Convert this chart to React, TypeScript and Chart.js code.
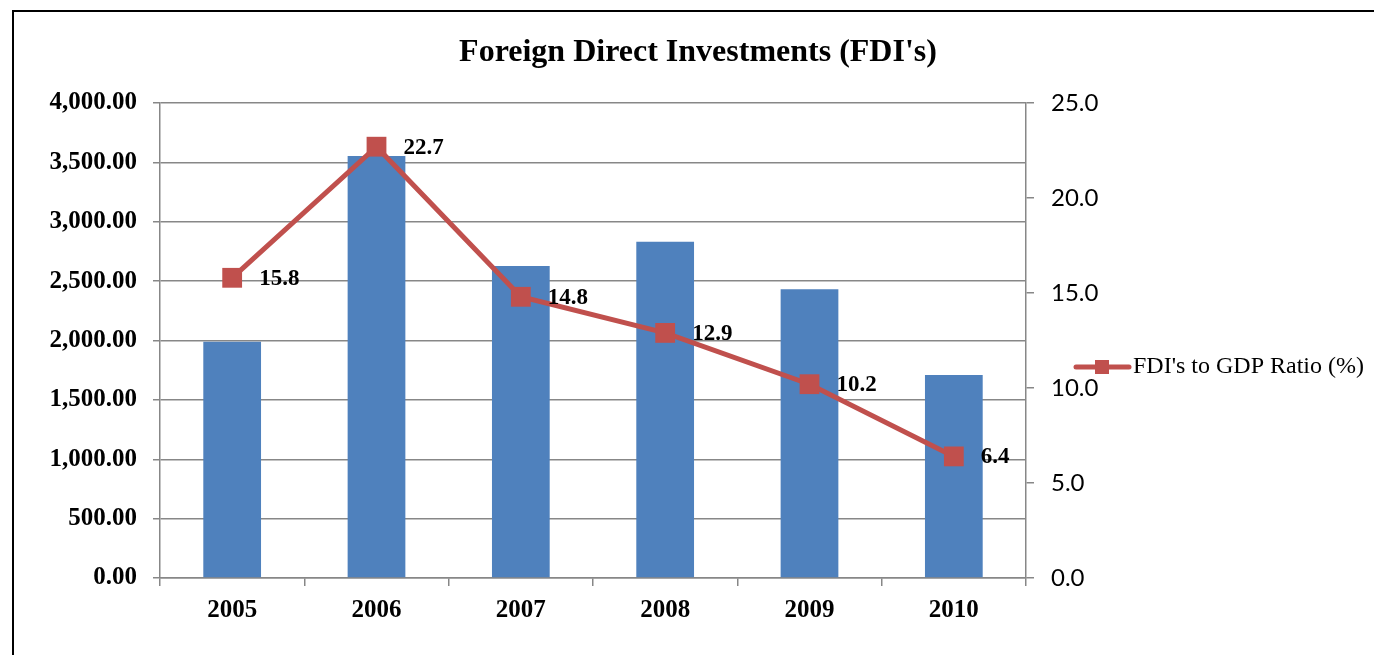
import React, { useEffect, useRef } from "react";
import { Chart, registerables } from "chart.js";

Chart.register(...registerables);

const years = ["2005", "2006", "2007", "2008", "2009", "2010"];
const fdiValues = [1990, 3554, 2627, 2832, 2431, 1709];
const ratioValues = [15.8, 22.7, 14.8, 12.9, 10.2, 6.4];
const titleText = "Foreign Direct Investments (FDI's)";
const lineLabel = "FDI's to GDP Ratio (%)";

const BLUE = "#4F81BD";
const RED = "#C0504D";
const GRID = "#878787";
const SERIF = "'Liberation Serif', 'Times New Roman', serif";
const SANS = "Lato, 'Open Sans', sans-serif";

const framePlugin = {
  id: "frame",
  beforeDraw(chart: any) {
    const ctx = chart.ctx;
    ctx.save();
    ctx.strokeStyle = "#000";
    ctx.lineWidth = 2;
    ctx.beginPath();
    ctx.moveTo(13, chart.height + 5);
    ctx.lineTo(13, 11);
    ctx.lineTo(chart.width + 5, 11);
    ctx.stroke();
    ctx.fillStyle = "#000";
    ctx.font = `bold 32px ${SERIF}`;
    ctx.textAlign = "center";
    ctx.textBaseline = "middle";
    ctx.fillText(titleText, 698, 53);
    ctx.restore();
  },
};

const labelPlugin = {
  id: "valueLabels",
  afterDatasetsDraw(chart: any) {
    const ctx = chart.ctx;
    const meta = chart.getDatasetMeta(1);
    ctx.save();
    ctx.font = `bold 23px ${SERIF}`;
    ctx.fillStyle = "#000";
    ctx.textAlign = "left";
    ctx.textBaseline = "middle";
    meta.data.forEach((pt: any, i: number) => {
      ctx.fillText(ratioValues[i].toFixed(1), pt.x + 27, pt.y + 1);
    });
    ctx.restore();
  },
};

const legendPlugin = {
  id: "customLegend",
  afterDraw(chart: any) {
    const ctx = chart.ctx;
    const y = 367;
    ctx.save();
    ctx.strokeStyle = RED;
    ctx.lineWidth = 5;
    ctx.lineCap = "round";
    ctx.beginPath();
    ctx.moveTo(1076, y);
    ctx.lineTo(1129, y);
    ctx.stroke();
    ctx.fillStyle = RED;
    ctx.fillRect(1095, y - 7, 14, 14);
    ctx.fillStyle = "#000";
    ctx.font = `24px ${SERIF}`;
    ctx.textAlign = "left";
    ctx.textBaseline = "middle";
    ctx.fillText(lineLabel, 1133, y);
    ctx.restore();
  },
};

export default function App() {
  const ref = useRef<HTMLCanvasElement>(null);

  useEffect(() => {
    if (!ref.current) return;
    const chart = new Chart(ref.current, {
      type: "bar",
      data: {
        labels: years,
        datasets: [
          {
            type: "bar",
            label: "FDI's",
            data: fdiValues,
            backgroundColor: BLUE,
            borderWidth: 0,
            barPercentage: 0.4,
            categoryPercentage: 1,
            yAxisID: "y",
            order: 2,
          },
          {
            type: "line",
            label: lineLabel,
            data: ratioValues,
            borderColor: RED,
            backgroundColor: RED,
            borderWidth: 5,
            pointStyle: "rect",
            pointRadius: 14,
            pointHoverRadius: 14,
            pointBorderWidth: 0,
            pointBackgroundColor: RED,
            tension: 0,
            yAxisID: "y1",
            order: 1,
          } as any,
        ],
      },
      options: {
        responsive: false,
        animation: false,
        devicePixelRatio: 1,
        layout: { padding: { top: 103, left: 0, right: 0, bottom: 0 } },
        plugins: {
          legend: { display: false },
          tooltip: { enabled: false },
          title: { display: false },
        },
        scales: {
          x: {
            offset: true,
            grid: {
              display: true,
              offset: true,
              drawOnChartArea: false,
              drawTicks: true,
              tickLength: 8,
              color: GRID,
              lineWidth: 1.5,
            },
            border: { display: true, color: GRID, width: 1.5 },
            ticks: {
              color: "#000",
              padding: 10,
              font: { family: SERIF, size: 25, weight: "bold" },
            },
            afterFit(scale: any) {
              scale.height = 77;
            },
          },
          y: {
            position: "left",
            min: 0,
            max: 4000,
            grid: {
              color: GRID,
              lineWidth: 1.5,
              drawTicks: true,
              tickLength: 7,
            },
            border: { display: true, color: GRID, width: 1.5 },
            ticks: {
              stepSize: 500,
              color: "#000",
              padding: 16,
              font: { family: SERIF, size: 25, weight: "bold" },
              callback: (v: any) =>
                Number(v).toLocaleString("en-US", {
                  minimumFractionDigits: 2,
                  maximumFractionDigits: 2,
                }),
            },
            afterFit(scale: any) {
              scale.width = 160;
            },
          },
          y1: {
            position: "right",
            min: 0,
            max: 25,
            grid: {
              drawOnChartArea: false,
              color: GRID,
              lineWidth: 1.5,
              drawTicks: true,
              tickLength: 8,
            },
            border: { display: true, color: GRID, width: 1.5 },
            ticks: {
              stepSize: 5,
              color: "#000",
              padding: 17,
              font: { family: SANS, size: 24 },
              callback: (v: any) => Number(v).toFixed(1),
            },
            afterFit(scale: any) {
              scale.width = 348;
            },
          },
        },
      },
      plugins: [framePlugin, labelPlugin, legendPlugin],
    });
    return () => chart.destroy();
  }, []);

  return (
    <div style={{ position: "fixed", left: 0, top: 0, width: 1374, height: 655, background: "#fff" }}>
      <canvas ref={ref} width={1374} height={655} style={{ display: "block" }} />
    </div>
  );
}
